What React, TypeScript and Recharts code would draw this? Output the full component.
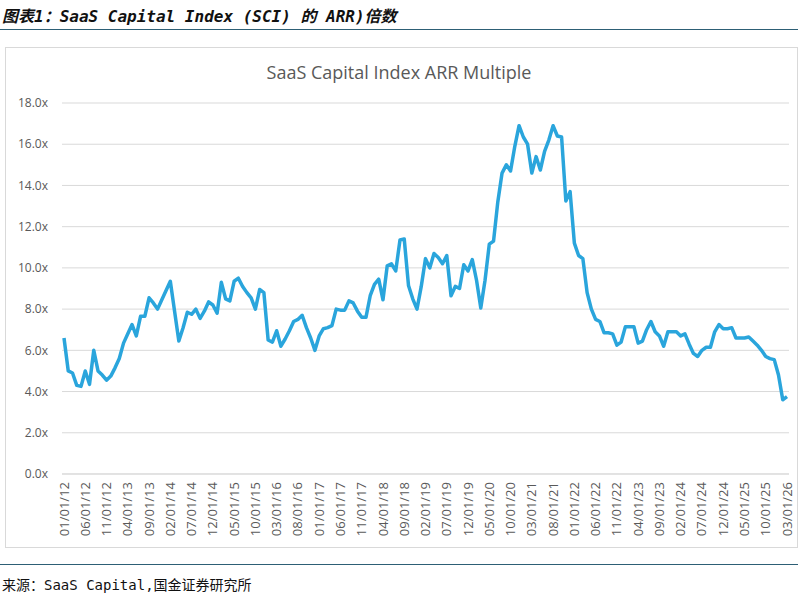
import React from "react";
import { LineChart, Line, XAxis, YAxis, CartesianGrid } from "recharts";

// monthly, 01/2012 .. 03/2026
const startYear = 2012;
const monthCount = 171;

const arrMultiple = [
  6.6, 5.0, 4.9, 4.3, 4.25, 5.0, 4.35, 6.0, 5.0, 4.8,
  4.55, 4.75, 5.15, 5.6, 6.35, 6.8, 7.25, 6.7, 7.65, 7.65,
  8.55, 8.3, 8.0, 8.45, 8.9, 9.35, 7.9, 6.45, 7.1, 7.85,
  7.75, 8.0, 7.55, 7.9, 8.35, 8.2, 7.8, 9.3, 8.5, 8.4,
  9.35, 9.5, 9.1, 8.8, 8.55, 8.0, 8.95, 8.8, 6.5, 6.4,
  6.95, 6.2, 6.55, 6.95, 7.4, 7.5, 7.7, 7.1, 6.6, 6.0,
  6.7, 7.05, 7.1, 7.2, 8.0, 7.95, 7.95, 8.4, 8.3, 7.9,
  7.6, 7.6, 8.65, 9.2, 9.45, 8.45, 10.1, 10.2, 9.85, 11.35,
  11.4, 9.15, 8.5, 8.0, 9.1, 10.45, 10.0, 10.7, 10.5, 10.2,
  10.6, 8.65, 9.1, 9.0, 10.15, 9.85, 10.4, 9.4, 8.05, 9.4,
  11.15, 11.3, 13.2, 14.6, 15.0, 14.7, 15.9, 16.9, 16.35, 16.0,
  14.6, 15.4, 14.75, 15.65, 16.2, 16.9, 16.4, 16.35, 13.25, 13.7,
  11.2, 10.6, 10.45, 8.8, 8.0, 7.5, 7.4, 6.85, 6.85, 6.8,
  6.25, 6.4, 7.15, 7.15, 7.15, 6.35, 6.45, 7.0, 7.4, 6.9,
  6.7, 6.2, 6.9, 6.9, 6.9, 6.7, 6.8, 6.3, 5.85, 5.7,
  6.0, 6.15, 6.15, 6.9, 7.25, 7.05, 7.05, 7.1, 6.6, 6.6,
  6.6, 6.65, 6.45, 6.25, 6.0, 5.7, 5.6, 5.55, 4.8, 3.6, 3.75,
];

const yTicks = [0, 2, 4, 6, 8, 10, 12, 14, 16, 18];

const pad = (n: number) => (n < 10 ? "0" + n : "" + n);

const months: string[] = [];
for (let i = 0; i < monthCount; i++) {
  const y = startYear + Math.floor(i / 12);
  const m = (i % 12) + 1;
  months.push(`${pad(m)}/01/${pad(y % 100)}`);
}

const data = months.map((d, i) => ({ date: d, value: arrMultiple[i] }));

const tickFont = "'Open Sans', 'Liberation Sans', sans-serif";
const cjkMono = "'DejaVu Sans Mono', 'Noto Sans CJK SC', monospace";

const DateTick = (props: any) => {
  const { x, y, payload } = props;
  return (
    <text
      x={x}
      y={y}
      dy="0.35em"
      textAnchor="end"
      transform={`rotate(-90, ${x}, ${y})`}
      fill="#595959"
      fontSize={13}
      fontFamily={tickFont}
    >
      {payload.value}
    </text>
  );
};

export default function App() {
  return (
    <div
      style={{
        position: "absolute",
        left: 0,
        top: 0,
        width: 798,
        height: 597,
        background: "#fff",
        overflow: "hidden",
      }}
    >
      <div
        style={{
          position: "absolute",
          left: 2,
          top: 3,
          fontFamily: cjkMono,
          fontWeight: "bold",
          fontStyle: "italic",
          fontSize: 16,
          color: "#111",
          whiteSpace: "pre",
        }}
      >
        图表1：SaaS Capital Index (SCI) 的 ARR)倍数
      </div>
      <div
        style={{
          position: "absolute",
          left: 0,
          top: 29,
          width: 798,
          height: 1,
          background: "#2d5f75",
        }}
      />
      <div
        style={{
          position: "absolute",
          left: 5,
          top: 47,
          width: 793,
          height: 501,
          border: "1px solid #d9d9d9",
          boxSizing: "border-box",
        }}
      />
      <div
        style={{
          position: "absolute",
          left: 0,
          top: 60,
          width: 798,
          textAlign: "center",
          fontFamily: tickFont,
          fontSize: 18,
          color: "#595959",
        }}
      >
        SaaS Capital Index ARR Multiple
      </div>
      <div style={{ position: "absolute", left: 0, top: 0 }}>
        <LineChart
          width={798}
          height={560}
          data={data}
          margin={{ top: 103, right: 9, left: 0, bottom: 0 }}
        >
          <CartesianGrid vertical={false} stroke="#d9d9d9" strokeWidth={1} />
          <XAxis
            dataKey="date"
            interval={4}
            height={86}
            padding={{ left: 2, right: 2 }}
            axisLine={{ stroke: "#d9d9d9" }}
            tickLine={false}
            tickMargin={2}
            tick={<DateTick />}
          />
          <YAxis
            width={62}
            domain={[0, 18]}
            ticks={yTicks}
            interval={0}
            axisLine={false}
            tickLine={false}
            tickMargin={8}
            tickFormatter={(v: number) => v.toFixed(1) + "x"}
            tick={{ fill: "#595959", fontSize: 12, fontFamily: tickFont }}
          />
          <Line
            type="linear"
            dataKey="value"
            stroke="#2aa5dc"
            strokeWidth={3.5}
            dot={false}
            strokeLinejoin="round"
            isAnimationActive={false}
          />
        </LineChart>
      </div>
      <div
        style={{
          position: "absolute",
          left: 0,
          top: 564,
          width: 798,
          height: 1,
          background: "#2d5f75",
        }}
      />
      <div
        style={{
          position: "absolute",
          left: 2,
          top: 574,
          fontFamily: cjkMono,
          fontSize: 14,
          color: "#111",
          whiteSpace: "pre",
        }}
      >
        来源：SaaS Capital,国金证券研究所
      </div>
    </div>
  );
}
